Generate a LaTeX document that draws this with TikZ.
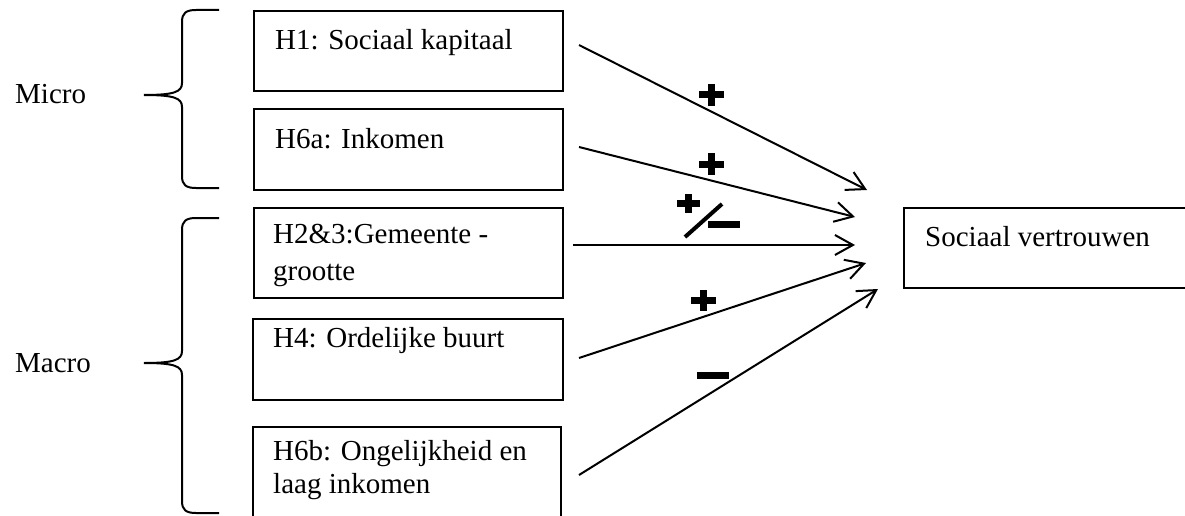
\documentclass[tikz,border=0pt]{standalone}
\usepackage{fontspec}
\setmainfont{Liberation Serif}
\usetikzlibrary{arrows.meta}
\tikzset{
  box/.style={draw, line width=1.6pt, anchor=north west, inner sep=0pt, minimum width=#1},
  lbl/.style={anchor=base west, inner sep=0pt, align=left, font=\fontsize{29}{35}\selectfont},
  arr/.style={line width=2pt, -{Straight Barb[length=18pt,width=20pt,line width=2pt]}},
  sign/.style={line width=7pt, line cap=butt},
  slash/.style={line width=4pt, line cap=butt},
  brace/.style={line width=2pt}
}
\begin{document}
\begin{tikzpicture}[x=1pt,y=-1pt]
\useasboundingbox (0,0) rectangle (1185,516);
% boxes
\node[box=309pt, minimum height=80pt] (h1) at (253,10) {};
\node[box=309pt, minimum height=81pt] (h6a) at (253,108) {};
\node[box=309pt, minimum height=90pt] (h23) at (253,207) {};
\node[box=310pt, minimum height=81pt] (h4) at (252,318) {};
\node[box=308pt, minimum height=110pt] (h6b) at (252,426) {};
\node[box=292pt, minimum height=80pt] (sv) at (903,207) {};
% texts
\node[lbl] (t1) at (275,50) {H1: Sociaal kapitaal};
\node[lbl] (t6a) at (275,148) {H6a: Inkomen};
\node[lbl, font=\fontsize{29}{37}\selectfont] (t23) at (273,280) {H2\&3:Gemeente -\\grootte};
\node[lbl] (t4) at (273,347) {H4: Ordelijke buurt};
\node[lbl, font=\fontsize{29}{33}\selectfont] (t6b) at (273,493) {H6b: Ongelijkheid en\\laag inkomen};
\node[lbl] (tsv) at (925,246) {Sociaal vertrouwen};
\node[lbl] (micro) at (15,103) {Micro};
\node[lbl] (macro) at (15,372) {Macro};
% braces
\draw[brace] (219,10) -- (196,10) .. controls (186,10) and (182,13) .. (182,22) -- (182,83)
  .. controls (182,92) and (174,95) .. (144,95) .. controls (174,95) and (182,98) .. (182,107)
  -- (182,176) .. controls (182,185) and (186,188) .. (196,188) -- (219,188);
\draw[brace] (219,218) -- (196,218) .. controls (186,218) and (182,221) .. (182,230) -- (182,351)
  .. controls (182,360) and (174,363) .. (144,363) .. controls (174,363) and (182,366) .. (182,375)
  -- (182,501) .. controls (182,510) and (186,513) .. (196,513) -- (219,513);
% connector ends
\coordinate (s1) at (579,45);  \coordinate (e1) at (867,190);
\coordinate (s2) at (579,147); \coordinate (e2) at (855,217);
\coordinate (s3) at (573,245); \coordinate (e3) at (855,245);
\coordinate (s4) at (579,358); \coordinate (e4) at (866,263);
\coordinate (s5) at (579,475); \coordinate (e5) at (878,289);
\draw[arr] (s1) -- (e1);
\draw[arr] (s2) -- (e2);
\draw[arr] (s3) -- (e3);
\draw[arr] (s4) -- (e4);
\draw[arr] (s5) -- (e5);
% signs
\draw[sign] (699,95) -- (724,95) (711.5,84) -- (711.5,106);
\draw[sign] (699,164) -- (724,164) (711.5,153) -- (711.5,175);
\draw[sign] (677,203.5) -- (700,203.5) (688.5,194) -- (688.5,213);
\draw[slash] (685,237) -- (722,204);
\draw[sign] (708,224.5) -- (740,224.5);
\draw[sign] (691,300.5) -- (716,300.5) (703.5,290) -- (703.5,311);
\draw[sign] (697,375) -- (729,375);
\end{tikzpicture}
\end{document}
